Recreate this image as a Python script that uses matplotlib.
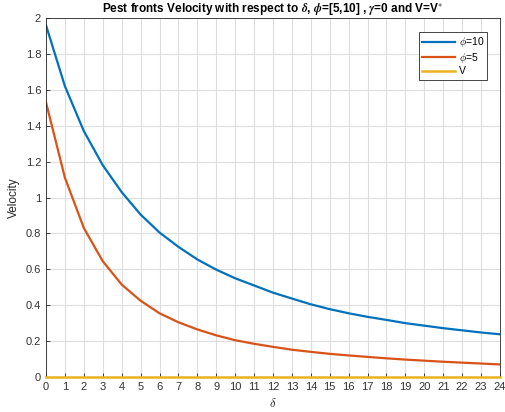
import numpy as np
import matplotlib.pyplot as plt

plt.rcParams['font.family'] = ['Liberation Sans', 'DejaVu Sans']
plt.rcParams['mathtext.fontset'] = 'cm'

delta = np.arange(0, 25)
v_phi10 = [1.96, 1.62, 1.37, 1.18, 1.03, 0.905, 0.805, 0.725, 0.655, 0.598,
           0.55, 0.51, 0.47, 0.437, 0.405, 0.378, 0.355, 0.335, 0.318, 0.3,
           0.286, 0.272, 0.26, 0.248, 0.238]
v_phi5 = [1.53, 1.11, 0.83, 0.645, 0.515, 0.425, 0.355, 0.305, 0.265, 0.232,
          0.205, 0.185, 0.168, 0.152, 0.14, 0.129, 0.12, 0.112, 0.104, 0.097,
          0.091, 0.085, 0.08, 0.075, 0.07]
v_star = [0.0] * len(delta)

fig = plt.figure(figsize=(5.05, 4.12), dpi=100)
ax = fig.add_axes([46/505, 1 - 377/412, 454/505, 359/412])

ax.plot(delta, v_phi10, color='#0072BD', lw=1.6, label=r'$\phi$=10')
ax.plot(delta, v_phi5, color='#D95319', lw=1.6, label=r'$\phi$=5')
ax.plot(delta, v_star, color='#EDB120', lw=1.8, label='V', clip_on=False, zorder=5)

ax.set_xlim(0, 24)
ax.set_ylim(0, 2)
ax.set_xticks(np.arange(0, 25, 1))
ax.set_yticks(np.arange(0, 2.01, 0.2))
ax.set_yticklabels(['0', '0.2', '0.4', '0.6', '0.8', '1', '1.2', '1.4', '1.6', '1.8', '2'])
ax.grid(True, color='#dedede', lw=0.8)
ax.set_axisbelow(True)
ax.tick_params(direction='in', length=3, labelsize=8, color='#262626',
               labelcolor='#333333', width=0.6)
for s in ax.spines.values():
    s.set_color('#262626')
    s.set_linewidth(0.6)

ax.set_xlabel(r'$\delta$', fontsize=9, color='#262626')
ax.set_ylabel('Velocity', fontsize=8.5, color='#262626')
ax.set_title(r'Pest fronts Velocity with respect to $\boldsymbol{\delta}$, '
             r'$\boldsymbol{\phi}$=[5,10] , $\boldsymbol{\gamma}$=0 and V=V$^{*}$',
             fontsize=8.5, fontweight='bold', pad=4)

leg = ax.legend(loc='upper right', fontsize=7.5, fancybox=False, framealpha=1,
                edgecolor='#262626', handlelength=3.2, borderpad=0.3,
                labelspacing=0.15, handletextpad=0.3, bbox_to_anchor=(0.983, 0.975))
leg.get_frame().set_linewidth(0.6)

fig.savefig('out.png', dpi=100)
